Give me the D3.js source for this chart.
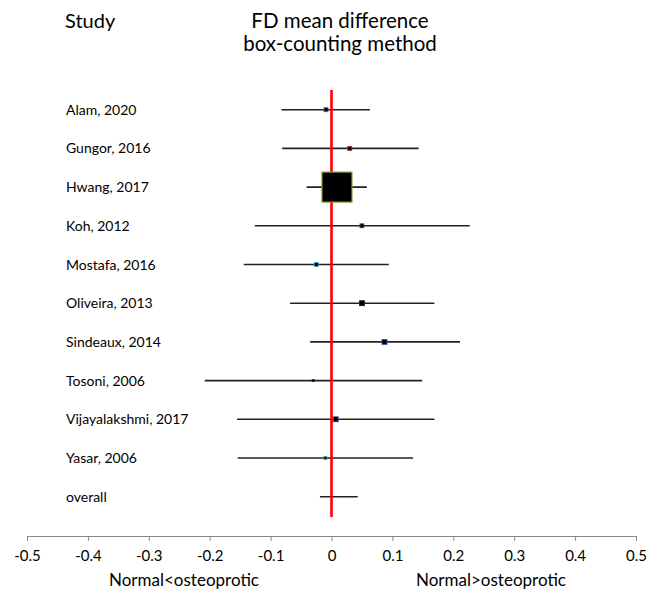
<!DOCTYPE html>
<html>
<head>
<meta charset="UTF-8">
<title>FD mean difference</title>
<script src="https://d3js.org/d3.v7.min.js"></script>
<style>
  body { margin: 0; background: #fff; }
  text { font-family: "Lato", "Open Sans", sans-serif; fill: #000; }
</style>
</head>
<body>
<script>
// study data
var studies = ["Alam, 2020", "Gungor, 2016", "Hwang, 2017", "Koh, 2012", "Mostafa, 2016",
               "Oliveira, 2013", "Sindeaux, 2014", "Tosoni, 2006", "Vijayalakshmi, 2017", "Yasar, 2006", "overall"];
var meanDiff = [-0.009, 0.030, 0.009, 0.050, -0.025, 0.050, 0.087, -0.030, 0.007, -0.010, 0.012];
var ciLow  = [-0.082, -0.081, -0.041, -0.126, -0.144, -0.068, -0.035, -0.208, -0.155, -0.154, -0.019];
var ciHigh = [0.063, 0.143, 0.058, 0.227, 0.094, 0.169, 0.211, 0.149, 0.169, 0.134, 0.043];
var boxSize = [4, 4, 30, 4, 4, 5, 5, 2, 5, 3, 0];
var boxEdge = ["#3a6fa8", "#b03030", "#8a9a30", "#5a4a8a", "#4aa0c0", "#222", "#2a5aa0", "#222", "#5a4a8a", "#4ab0b0", "#222"];
var tickValues = [-0.5, -0.4, -0.3, -0.2, -0.1, 0, 0.1, 0.2, 0.3, 0.4, 0.5];

var width = 657, height = 592;

var svg = d3.select("body").append("svg")
    .attr("width", width)
    .attr("height", height);

var x = d3.scaleLinear().domain([-0.5, 0.5]).range([27, 636]);
var y = d3.scalePoint().domain(studies).range([109.7, 496.7]);

// headers
svg.append("text").attr("x", 65).attr("y", 28).style("font-size", "20px").text("Study");
svg.append("text").attr("x", 340).attr("y", 28).attr("text-anchor", "middle").style("font-size", "20.5px").text("FD mean difference");
svg.append("text").attr("x", 340).attr("y", 51).attr("text-anchor", "middle").style("font-size", "20.5px").text("box-counting method");

// study labels
svg.selectAll(".lbl").data(studies).enter().append("text")
    .attr("class", "lbl")
    .attr("x", 66)
    .attr("y", function(d){ return y(d) + 5; })
    .style("font-size", "14px")
    .text(function(d){ return d; });

// confidence intervals
svg.selectAll(".ci").data(studies).enter().append("line")
    .attr("class", "ci")
    .attr("x1", function(d, i){ return x(ciLow[i]); })
    .attr("x2", function(d, i){ return x(ciHigh[i]); })
    .attr("y1", function(d){ return y(d); })
    .attr("y2", function(d){ return y(d); })
    .attr("stroke", "#222")
    .attr("stroke-width", 1.6);

// zero line
svg.append("line")
    .attr("x1", x(0)).attr("x2", x(0))
    .attr("y1", 90).attr("y2", 517)
    .attr("stroke", "#ff0000")
    .attr("stroke-width", 2.6);

// boxes
svg.selectAll(".box").data(studies).enter().append("rect")
    .attr("class", "box")
    .filter(function(d, i){ return boxSize[i] > 0; })
    .attr("x", function(d){ var i = studies.indexOf(d); return x(meanDiff[i]) - boxSize[i] / 2; })
    .attr("y", function(d){ var i = studies.indexOf(d); return y(d) - boxSize[i] / 2; })
    .attr("width", function(d){ return boxSize[studies.indexOf(d)]; })
    .attr("height", function(d){ return boxSize[studies.indexOf(d)]; })
    .attr("fill", "#000")
    .attr("stroke", function(d){ return boxEdge[studies.indexOf(d)]; })
    .attr("stroke-width", function(d){ return boxSize[studies.indexOf(d)] > 10 ? 1.2 : 0.8; });

// axis, labels use a plain hyphen like the original
var axis = svg.append("g")
    .attr("transform", "translate(0,536)")
    .call(d3.axisBottom(x).tickValues(tickValues).tickSize(5).tickSizeOuter(0)
      .tickFormat(function(d){ return d === 0 ? "0" : String(d); }));
axis.select(".domain").attr("stroke", "#888");
axis.selectAll(".tick line").attr("stroke", "#888");
axis.selectAll(".tick text")
    .attr("y", 14)
    .style("font-size", "15px")
    .style("font-family", "Lato, 'Open Sans', sans-serif")
    .attr("fill", "#000");

svg.append("text").attr("x", 184).attr("y", 586).attr("text-anchor", "middle").style("font-size", "17px").text("Normal<osteoprotic");
svg.append("text").attr("x", 491).attr("y", 586).attr("text-anchor", "middle").style("font-size", "17px").text("Normal>osteoprotic");
</script>
</body>
</html>
